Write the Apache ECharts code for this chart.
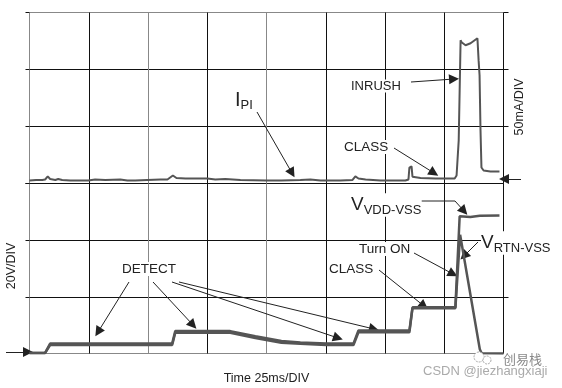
<!DOCTYPE html>
<html>
<head>
<meta charset="utf-8">
<style>
    html, body { margin: 0; padding: 0; background: #fff; }
    #chart { width: 562px; height: 388px; }
</style>
<script src="https://cdn.jsdelivr.net/npm/echarts@6/dist/echarts.min.js"></script>
</head>
<body>
<div id="chart"></div>
<script>
    // time in ms, current in mA
    var ipiTime = [0, 2.8, 5.4, 6.6, 7.7, 8.7, 10.9, 12.1, 13.8, 17.2, 21.4, 24.8, 27.7, 32, 38.3, 41.3, 44.6, 49.7, 55.2, 58.2, 60.5, 62, 65.8, 75, 78.4, 82.6, 89, 100, 106.3, 114.3, 118.5, 122.8, 131.2, 136.3, 137.5, 138.8, 141.8, 148.1, 158.6, 159.9, 160.3, 161.2, 161.6, 165, 171.3, 179.4, 180.2, 181.1, 181.5, 181.9, 182.3, 184, 186.1, 189, 189.5, 189.9, 190.3, 190.7, 191.6, 194.5, 198.3];
    var ipiValues = [2.6, 3.1, 3.1, 3.5, 6.2, 4, 3.1, 4, 3.1, 2.6, 2.6, 2.6, 3.5, 3.1, 3.5, 2.6, 2.6, 3.1, 3.5, 3.5, 7, 4.8, 4.4, 4.4, 3.5, 4, 3.1, 2.6, 2.6, 3.1, 3.5, 2.6, 2.6, 3.1, 6.2, 4.4, 3.5, 2.6, 2.6, 3.5, 14, 15, 6, 4.8, 4.4, 4.4, 7, 37.8, 81.7, 125.7, 123.9, 121.3, 123, 127.4, 108, 95, 46.6, 14, 11.4, 10.5, 10.5];

    // time in ms, voltage in V
    var vddTime = [0, 6.6, 8.7, 60.2, 61.5, 84.7, 95.3, 106.3, 114.3, 125.2, 136.7, 138.8, 160.3, 161.6, 179.7, 181.5, 186, 190, 198.3];
    var vddValues = [0.2, 0.2, 3.5, 3.5, 7.9, 7.9, 6.1, 4.4, 3.9, 3.5, 3.5, 8.1, 8.1, 16.3, 16.3, 48.4, 48.2, 48.6, 48.7];
    var rtnTime = [0, 6.6, 8.7, 60.2, 61.5, 84.7, 95.3, 106.3, 114.3, 125.2, 136.7, 138.8, 160.3, 161.6, 179.7, 181.7, 190, 190.8, 200];
    var rtnValues = [0.2, 0.2, 3, 3, 7.3, 7.3, 5.5, 3.8, 3.4, 3, 3, 7.5, 7.5, 16, 16, 41.9, 1.5, 0.1, 0];

    var timeTicks = ['#888', '#111', '#888', '#111', '#888', '#111', '#111', '#111', '#111'];

    // annotation arrows, page pixels: [x0, y0, x1, y1]
    var arrows = [
        [257, 112, 292, 173],
        [411, 82, 454, 79],
        [394, 148, 434, 173],
        [129, 282, 98, 332],
        [153, 282, 193, 325],
        [172, 282, 338, 338],
        [179, 282, 374, 329],
        [414, 253, 453, 274],
        [379, 270, 424, 306],
        [455, 201, 464, 211],
        [478, 242, 464, 256],
        [6, 352, 28, 352],
        [521, 179, 504, 179]
    ];

    function zip(t, v) {
        return t.map(function (x, i) { return [x, v[i]]; });
    }

    function label(x, y, text, size, rich) {
        return {
            type: 'text', x: x, y: y, z: 50,
            style: {
                text: text,
                fontFamily: 'Liberation Sans',
                fontSize: size,
                fill: '#222',
                backgroundColor: '#fff',
                verticalAlign: 'middle',
                rich: rich
            }
        };
    }

    var subscript = {
        v: { fontFamily: 'Liberation Sans', fontSize: 19, fill: '#222', backgroundColor: '#fff' },
        s: { fontFamily: 'Liberation Sans', fontSize: 13, fill: '#222', backgroundColor: '#fff', padding: [10, 0, 0, 0] }
    };

    var myChart = echarts.init(document.getElementById('chart'));
    myChart.setOption({
        animation: false,
        backgroundColor: '#fff',
        grid: [
            { left: 29.5, right: 58.5, top: 12.5, height: 171 },
            { left: 29.5, right: 58.5, top: 183.5, height: 170 }
        ],
        xAxis: [0, 1].map(function (i) {
            return {
                type: 'value', gridIndex: i, min: 0, max: 200, interval: 25,
                axisLine: { show: false },
                axisTick: { show: false },
                axisLabel: { show: false },
                splitLine: { show: true, lineStyle: { color: timeTicks, width: 1 } },
                name: i == 1 ? 'Time 25ms/DIV' : '',
                nameLocation: 'middle',
                nameGap: 19,
                nameTextStyle: { fontFamily: 'Liberation Sans', fontSize: 12.5, color: '#222' }
            };
        }),
        yAxis: [
            {
                type: 'value', gridIndex: 0, min: 0, max: 150, interval: 50,
                axisLine: { show: false },
                axisTick: { show: true, length: 4, lineStyle: { color: '#111' } },
                axisLabel: { show: false },
                splitLine: { show: true, lineStyle: { color: ['#111', '#111', '#111', '#888'], width: 1 } }
            },
            {
                type: 'value', gridIndex: 0, min: 0, max: 150, interval: 50, position: 'right',
                axisLine: { show: false },
                axisTick: { show: true, length: 5, customValues: [50, 100, 150], lineStyle: { color: '#111' } },
                axisLabel: { show: false },
                splitLine: { show: false }
            },
            {
                type: 'value', gridIndex: 1, min: 0, max: 60, interval: 20,
                axisLine: { show: false },
                axisTick: { show: true, length: 4, lineStyle: { color: '#111' } },
                axisLabel: { show: false },
                splitLine: { show: true, lineStyle: { color: ['#888', '#111', '#111', '#111'], width: 1 } }
            },
            {
                type: 'value', gridIndex: 1, min: 0, max: 60, interval: 20, position: 'right',
                axisLine: { show: false },
                axisTick: { show: true, length: 5, customValues: [20, 40], lineStyle: { color: '#111' } },
                axisLabel: { show: false },
                splitLine: { show: false }
            }
        ],
        series: [
            {
                type: 'line', name: 'IPI', xAxisIndex: 0, yAxisIndex: 0, z: 5,
                showSymbol: false, data: zip(ipiTime, ipiValues),
                lineStyle: { color: '#555', width: 2 }
            },
            {
                type: 'line', name: 'VVDD-VSS', xAxisIndex: 1, yAxisIndex: 2, z: 5,
                showSymbol: false, data: zip(vddTime, vddValues),
                lineStyle: { color: '#555', width: 2.5 }
            },
            {
                type: 'line', name: 'VRTN-VSS', xAxisIndex: 1, yAxisIndex: 2, z: 5,
                showSymbol: false, data: zip(rtnTime, rtnValues),
                lineStyle: { color: '#555', width: 2.5 },
                markLine: {
                    silent: true,
                    animation: false,
                    symbol: ['none', 'triangle'],
                    symbolSize: 10,
                    label: { show: false },
                    lineStyle: { color: '#222', width: 1, type: 'solid' },
                    emphasis: { disabled: true },
                    data: arrows.map(function (a) {
                        return [{ x: a[0], y: a[1] }, { x: a[2], y: a[3] }];
                    })
                }
            }
        ],
        graphic: [
            label(235, 100, '{v|I}{s|PI}', 12, { v: { fontFamily: 'Liberation Sans', fontSize: 20, fill: '#222', backgroundColor: '#fff' }, s: subscript.s }),
            label(351, 86, 'INRUSH', 13),
            label(344, 147, 'CLASS', 13.5),
            label(122, 269, 'DETECT', 13.5),
            label(359, 249, 'Turn ON', 13.5),
            label(329, 269, 'CLASS', 13.5),
            label(351, 205, '{v|V}{s|VDD-VSS}', 12, subscript),
            label(481, 243, '{v|V}{s|RTN-VSS}', 12, subscript),
            {
                type: 'line', z: 40,
                shape: { x1: 419, y1: 201, x2: 455, y2: 201 },
                style: { stroke: '#222', lineWidth: 1 }
            },
            {
                type: 'text', x: 12, y: 266, rotation: Math.PI / 2, z: 50,
                style: { text: '20V/DIV', fontFamily: 'Liberation Sans', fontSize: 12.5, fill: '#222', align: 'center', verticalAlign: 'middle' }
            },
            {
                type: 'text', x: 520, y: 107, rotation: Math.PI / 2, z: 50,
                style: { text: '50mA/DIV', fontFamily: 'Liberation Sans', fontSize: 12.5, fill: '#222', align: 'center', verticalAlign: 'middle' }
            },
            // watermark
            {
                type: 'circle', z: 60, shape: { cx: 479, cy: 357, r: 5 },
                style: { fill: '#fff', stroke: '#aaa', lineWidth: 1, lineDash: [2, 1] }
            },
            {
                type: 'circle', z: 60, shape: { cx: 487, cy: 360, r: 4 },
                style: { fill: '#fff', stroke: '#aaa', lineWidth: 1, lineDash: [2, 1] }
            },
            {
                type: 'text', x: 503, y: 359, z: 60,
                style: { text: '创易栈', fontFamily: 'Noto Sans CJK SC', fontSize: 13, fill: '#888', verticalAlign: 'middle' }
            },
            {
                type: 'text', x: 423, y: 371, z: 60,
                style: { text: 'CSDN @jiezhangxiaji', fontFamily: 'Liberation Sans', fontSize: 13, fill: '#aaa', verticalAlign: 'middle' }
            }
        ]
    });
</script>
</body>
</html>
